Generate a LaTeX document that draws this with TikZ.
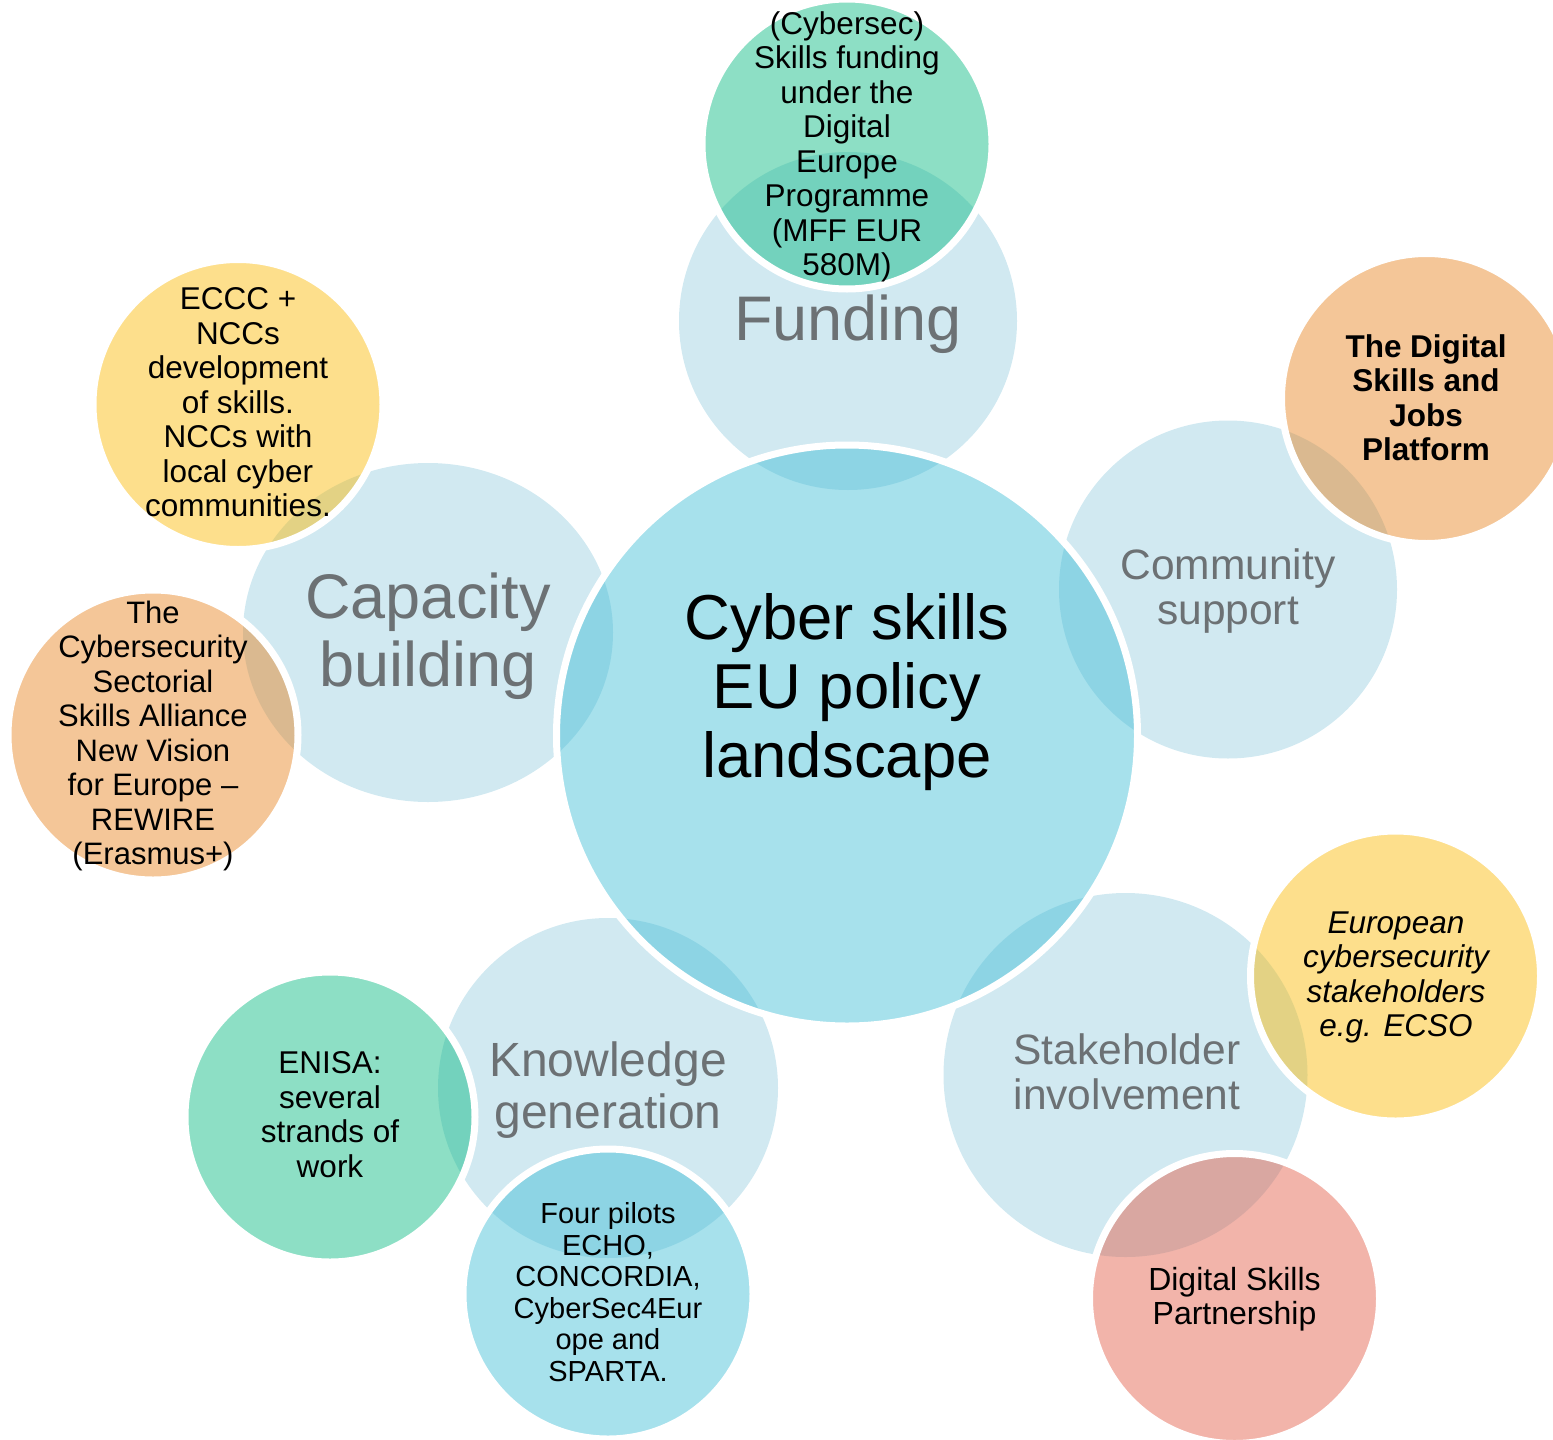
\documentclass[tikz,border=0pt]{standalone}
\usepackage{fontspec}
\setmainfont{Liberation Sans}
\usetikzlibrary{shapes.geometric}
\newlength{\du}
\setlength{\du}{1pt}
\newcommand{\fsz}[2]{\fontsize{#1}{#2}\selectfont}
\definecolor{topicfill}{RGB}{153,206,224}
\definecolor{hubfill}{RGB}{59,188,213}
\definecolor{mintfill}{RGB}{2,184,126}
\definecolor{peachfill}{RGB}{230,128,26}
\definecolor{sunfill}{RGB}{250,184,0}
\definecolor{rosefill}{RGB}{226,88,66}
\definecolor{topicgray}{RGB}{108,113,116}
\tikzset{
  disc/.style={circle, inner sep=0pt, outer sep=0pt, minimum size=#1, fill opacity=0.45},
  topic/.style={disc=#1, fill=topicfill},
  hubdisc/.style={disc=581\du, fill=hubfill, draw=white, draw opacity=1, line width=7\du},
  bubble/.style={disc=290\du, fill=#1, draw=white, draw opacity=1, line width=7\du},
  topiclabel/.style={align=center, text=topicgray, font=#1},
  bubblelabel/.style={align=center, text=black, font=\fsz{31.5}{34.5}}
}
\begin{document}
\begin{tikzpicture}
\pgftransformxscale{1.000000}
\pgftransformyscale{-1.000000}
\useasboundingbox (0\du,0\du) rectangle (1553\du,1440\du);
% outer topics
\node[topic=338\du] (funding) at (848\du,321\du) {};
\node[topic=338\du] (community) at (1228\du,589.5\du) {};
\node[topic=364\du] (stakeholder) at (1125.5\du,1075\du) {};
\node[topic=340\du] (knowledge) at (608\du,1088\du) {};
\node[ellipse, inner sep=0pt, minimum width=370\du, minimum height=339\du, fill=topicfill, fill opacity=0.45] (capacity) at (428\du,632.5\du) {};
% centre
\node[hubdisc] (hub) at (847\du,735.5\du) {};
% detail bubbles
\node[bubble=mintfill] (dep) at (847\du,144\du) {};
\node[bubble=peachfill] (jobs) at (1426.5\du,398.5\du) {};
\node[bubble=sunfill] (eccc) at (238\du,404.5\du) {};
\node[bubble=peachfill] (rewire) at (153\du,735\du) {};
\node[bubble=sunfill] (ecso) at (1395.5\du,976\du) {};
\node[bubble=rosefill] (dsp) at (1234.5\du,1298.5\du) {};
\node[bubble=mintfill] (enisa) at (330\du,1117\du) {};
\node[bubble=hubfill] (pilots) at (608\du,1294\du) {};
% labels
\node[align=center, font=\fsz{63.5}{69}] (hublabel) at (847\du,692\du) {Cyber skills\\EU policy\\landscape};
\node[topiclabel=\fsz{63}{68}] (fundinglabel) at (848\du,324\du) {Funding};
\node[topiclabel=\fsz{63}{68}] (capacitylabel) at (428\du,636\du) {Capacity\\building};
\node[topiclabel=\fsz{42.5}{45}] (communitylabel) at (1228\du,591.5\du) {Community\\support};
\node[topiclabel=\fsz{48}{51.6}] (knowledgelabel) at (608\du,1090\du) {Knowledge\\generation};
\node[topiclabel=\fsz{42.5}{45}] (stakeholderlabel) at (1127\du,1072\du) {Stakeholder\\involvement};
\node[bubblelabel] (deplabel) at (847\du,147\du) {(Cybersec)\\Skills funding\\under the\\Digital\\Europe\\Programme\\(MFF EUR\\580M)};
\node[bubblelabel, font=\bfseries\fsz{31.5}{34.5}] (jobslabel) at (1426\du,397.5\du) {The Digital\\Skills and\\Jobs\\Platform};
\node[bubblelabel] (eccclabel) at (238\du,402.5\du) {ECCC +\\NCCs\\development\\of skills.\\NCCs with\\local cyber\\communities.};
\node[bubblelabel, font=\fsz{31}{34.5}] (rewirelabel) at (153\du,736\du) {The\\Cybersecurity\\Sectorial\\Skills Alliance\\New Vision\\for Europe –\\REWIRE\\(Erasmus+)};
\node[bubblelabel, font=\itshape\fsz{31.5}{34.5}] (ecsolabel) at (1396\du,977.5\du) {European\\cybersecurity\\stakeholders\\e.g. ECSO};
\node[bubblelabel, font=\fsz{32}{34}] (dsplabel) at (1234.5\du,1299.5\du) {Digital Skills\\Partnership};
\node[bubblelabel] (enisalabel) at (330\du,1114.5\du) {ENISA:\\several\\strands of\\work};
\node[bubblelabel, font=\fsz{29}{31.5}] (pilotslabel) at (608\du,1292\du) {Four pilots\\ECHO,\\CONCORDIA,\\CyberSec4Eur\\ope and\\SPARTA.};
\end{tikzpicture}
\end{document}
